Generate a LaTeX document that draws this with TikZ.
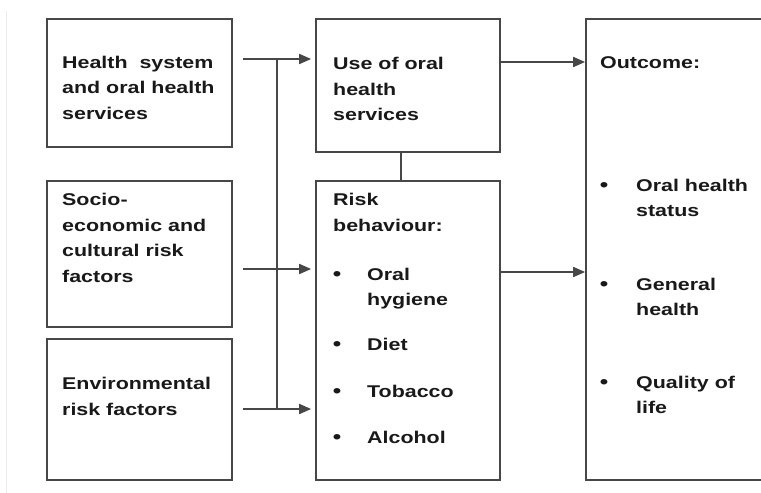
\documentclass[tikz,border=0pt]{standalone}
\usepackage{fontspec}
\setmainfont[FakeStretch=1.26]{Liberation Sans}
\usetikzlibrary{arrows.meta}
\newcommand{\mlines}[1]{\begin{tabular}[t]{@{}l@{}}#1\end{tabular}}
\tikzset{
  box/.style={draw=black!72, line width=1.7pt, rectangle, inner sep=0pt, fill=white},
  conn/.style={draw=black!72, line width=1.7pt},
  arr/.style={conn, -{Triangle[length=12pt,width=10pt]}},
  txt/.style={anchor=base west, inner sep=0pt, text=black!90,
    font=\fontsize{17}{25.5}\selectfont\bfseries},
  bul/.style={anchor=base, inner sep=0pt, text=black!90, font=\fontsize{19}{25.5}\selectfont\bfseries}
}
\begin{document}
\begin{tikzpicture}[x=1pt,y=-1pt]
\useasboundingbox[fill=white] (0,0) rectangle (761,493);
\draw[black!8, line width=1.5pt] (6.5,11) -- (6.5,493);
% boxes
\node[box, minimum width=185pt, minimum height=128pt] (b1) at (139.5,83) {};
\node[box, minimum width=185pt, minimum height=146pt] (b2) at (139.5,254) {};
\node[box, minimum width=185pt, minimum height=141pt] (b3) at (139.5,409.5) {};
\node[box, minimum width=184pt, minimum height=133pt] (m1) at (408,85.5) {};
\node[box, minimum width=184pt, minimum height=299pt] (m2) at (408,330.5) {};
\node[box, minimum width=190pt, minimum height=461pt] (r1) at (681,249.5) {};
% texts
\node[txt] (tb1) at (62,68) {\mlines{Health\ \ system\\and oral health\\services}};
\node[txt] (tb2) at (62,205.5) {\mlines{Socio-\\economic and\\cultural risk\\factors}};
\node[txt] (tb3) at (62,389.5) {\mlines{Environmental\\risk factors}};
\node[txt] (tm1) at (333,69.5) {\mlines{Use of oral\\health\\services}};
\node[txt] (tm2) at (333,205.5) {\mlines{Risk\\behaviour:}};
\node[bul] (bm1) at (337,280) {•};
\node[txt] (tm3) at (367,280) {\mlines{Oral\\hygiene}};
\node[bul] (bm2) at (337,350) {•};
\node[txt] (tm4) at (367,350) {Diet};
\node[bul] (bm3) at (337,397) {•};
\node[txt] (tm5) at (367,397) {Tobacco};
\node[bul] (bm4) at (337,443) {•};
\node[txt] (tm6) at (367,443) {Alcohol};
\node[txt] (tr1) at (600,68.5) {Outcome:};
\node[bul] (br1) at (604,191) {•};
\node[txt] (tr2) at (636,191) {\mlines{Oral health\\status}};
\node[bul] (br2) at (604,290) {•};
\node[txt] (tr3) at (636,290) {\mlines{General\\health}};
\node[bul] (br3) at (604,388) {•};
\node[txt] (tr4) at (636,388) {\mlines{Quality of\\life}};
% connectors
\coordinate (t1) at (277,59);
\coordinate (t2) at (277,269);
\coordinate (t3) at (277,409);
\coordinate (u1) at (500,62);
\coordinate (u2) at (500,272);
\draw[conn] (t1) -- (t3);
\draw[arr, shorten <=10pt, shorten >=4pt] (b1.east |- t1) -- (m1.west |- t1);
\draw[arr, shorten <=10pt, shorten >=4pt] (b2.east |- t2) -- (m2.west |- t2);
\draw[arr, shorten <=10pt, shorten >=4pt] (b3.east |- t3) -- (m2.west |- t3);
\draw[arr] (m1.east |- u1) -- (r1.west |- u1);
\draw[arr] (m2.east |- u2) -- (r1.west |- u2);
\draw[conn] ([xshift=-7pt]m1.south) -- ([xshift=-7pt]m2.north);
\end{tikzpicture}
\end{document}
